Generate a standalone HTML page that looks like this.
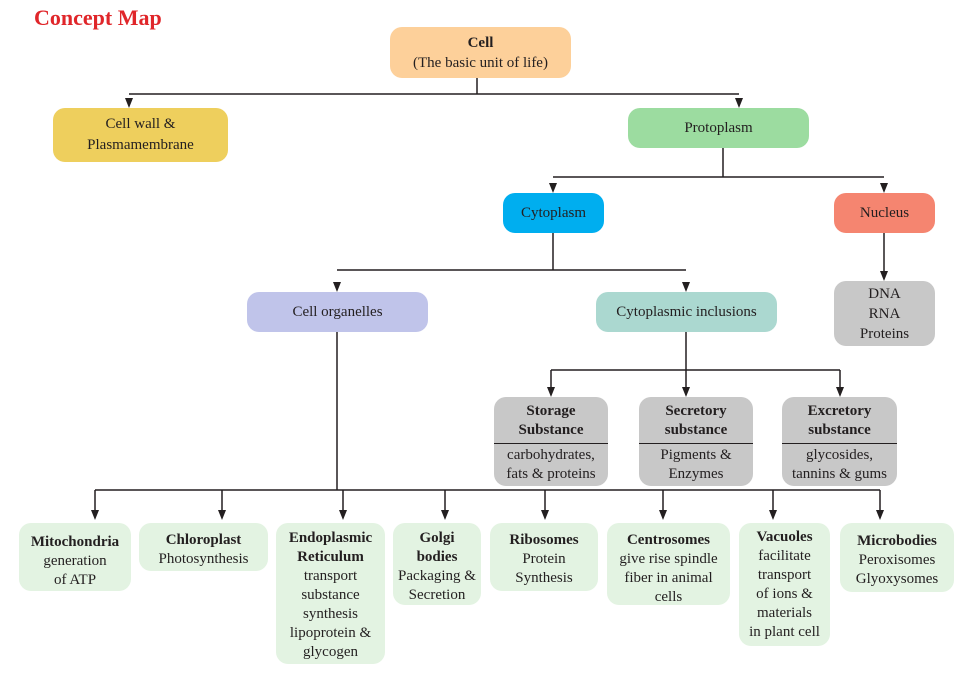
<!DOCTYPE html>
<html><head><meta charset="utf-8"><style>
body{margin:0;width:962px;height:688px;background:#fff;position:relative;overflow:hidden;font-family:"Liberation Serif",serif;color:#231f20}
.b{position:absolute;border-radius:12px;display:flex;flex-direction:column;align-items:center;justify-content:center;text-align:center;font-size:15px;line-height:19px;box-sizing:border-box}
.t{justify-content:flex-start;padding-top:8px}
.g{background:#e3f3e2}
.s{background:#c8c8c8;justify-content:flex-start;padding-top:5px}
.s hr{width:100%;border:0;border-top:1.5px solid #231f20;margin:3px 0 2px}
b{font-weight:bold}
</style></head><body>
<div style="position:absolute;left:34px;top:5px;color:#e0262a;font-weight:bold;font-size:22px">Concept Map</div>
<svg width="962" height="688" style="position:absolute;left:0;top:0">
<g stroke="#231f20" stroke-width="1.5" fill="none">
<path d="M477 78V94M129 94H739"/>
<path d="M723 148V177M553 177H884"/>
<path d="M553 233V270M337 270H686"/>
<path d="M686 332V370M551 370H840"/>
<path d="M337 332V490M95 490H880"/>
</g>
<g fill="#231f20">
<path d="M125 98h8l-4 10z"/><path d="M735 98h8l-4 10z"/>
<path d="M549 183h8l-4 10z"/><path d="M880 183h8l-4 10z"/>
<path d="M333 282h8l-4 10z"/><path d="M682 282h8l-4 10z"/>
<path d="M880 271h8l-4 10z"/><path d="M884 233V271" stroke="#231f20" stroke-width="1.5"/>
<path d="M547 387h8l-4 10z"/><path d="M682 387h8l-4 10z"/><path d="M836 387h8l-4 10z"/>
<path d="M91 510h8l-4 10z"/><path d="M218 510h8l-4 10z"/><path d="M339 510h8l-4 10z"/><path d="M441 510h8l-4 10z"/><path d="M541 510h8l-4 10z"/><path d="M659 510h8l-4 10z"/><path d="M769 510h8l-4 10z"/><path d="M876 510h8l-4 10z"/>
<path d="M95 490V510M222 490V510M343 490V510M445 490V510M545 490V510M663 490V510M773 490V510M880 490V510M551 370V387M686 370V387M840 370V387" stroke="#231f20" stroke-width="1.5"/>
</g>
</svg>
<div class="b" style="left:390px;top:27px;width:181px;height:51px;background:#fdd09a;line-height:20px"><b>Cell</b>(The basic unit of life)</div>
<div class="b" style="left:53px;top:108px;width:175px;height:54px;background:#eecf5d;line-height:21px">Cell wall &amp;<br>Plasmamembrane</div>
<div class="b" style="left:628px;top:108px;width:181px;height:40px;background:#9cdca0">Protoplasm</div>
<div class="b" style="left:503px;top:193px;width:101px;height:40px;background:#00aeef">Cytoplasm</div>
<div class="b" style="left:834px;top:193px;width:101px;height:40px;background:#f58570">Nucleus</div>
<div class="b" style="left:247px;top:292px;width:181px;height:40px;background:#c0c4ea">Cell organelles</div>
<div class="b" style="left:596px;top:292px;width:181px;height:40px;background:#abd8d0">Cytoplasmic inclusions</div>
<div class="b" style="left:834px;top:281px;width:101px;height:65px;background:#c8c8c8;line-height:20px">DNA<br>RNA<br>Proteins</div>
<div class="b s" style="left:494px;top:397px;width:114px;height:89px"><b>Storage<br>Substance</b><hr>carbohydrates,<br>fats &amp; proteins</div>
<div class="b s" style="left:639px;top:397px;width:114px;height:89px"><b>Secretory<br>substance</b><hr>Pigments &amp;<br>Enzymes</div>
<div class="b s" style="left:782px;top:397px;width:115px;height:89px"><b>Excretory<br>substance</b><hr>glycosides,<br>tannins &amp; gums</div>
<div class="b g t" style="left:19px;top:523px;width:112px;height:68px;padding-top:10px"><b>Mitochondria</b>generation<br>of ATP</div>
<div class="b g t" style="left:139px;top:523px;width:129px;height:48px"><b>Chloroplast</b>Photosynthesis</div>
<div class="b g t" style="left:276px;top:523px;width:109px;height:141px;padding-top:6px"><b>Endoplasmic<br>Reticulum</b>transport<br>substance<br>synthesis<br>lipoprotein &amp;<br>glycogen</div>
<div class="b g t" style="left:393px;top:523px;width:88px;height:82px;padding-top:6px"><b>Golgi<br>bodies</b>Packaging &amp;<br>Secretion</div>
<div class="b g t" style="left:490px;top:523px;width:108px;height:68px"><b>Ribosomes</b>Protein<br>Synthesis</div>
<div class="b g t" style="left:607px;top:523px;width:123px;height:82px"><b>Centrosomes</b>give rise spindle<br>fiber in animal<br>cells</div>
<div class="b g t" style="left:739px;top:523px;width:91px;height:123px;padding-top:5px"><b>Vacuoles</b>facilitate<br>transport<br>of ions &amp;<br>materials<br>in plant cell</div>
<div class="b g t" style="left:840px;top:523px;width:114px;height:69px;padding-top:9px"><b>Microbodies</b>Peroxisomes<br>Glyoxysomes</div>
</body></html>
